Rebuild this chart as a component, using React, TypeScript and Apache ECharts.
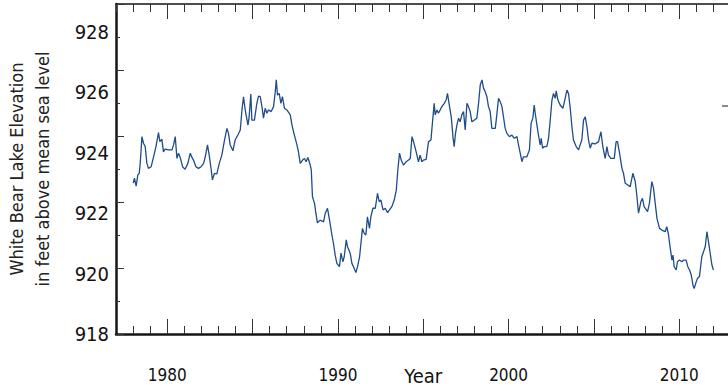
import React, { useEffect, useRef } from "react";
import * as echarts from "echarts";

const years: number[] = [
  1978.01, 1978.08, 1978.18, 1978.28, 1978.36, 1978.42, 1978.52, 1978.61, 1978.71, 1978.81, 1978.9,
  1979.06, 1979.2, 1979.34, 1979.49, 1979.57, 1979.69, 1979.78, 1979.88,
  1980.08, 1980.28, 1980.37, 1980.47, 1980.57, 1980.66, 1980.76, 1980.9,
  1981.05, 1981.21, 1981.35, 1981.45, 1981.54, 1981.68, 1981.83, 1981.99,
  1982.13, 1982.23, 1982.36, 1982.46, 1982.58, 1982.65, 1982.77, 1982.91,
  1983.05, 1983.2, 1983.36, 1983.5, 1983.59, 1983.69, 1983.85, 1983.98,
  1984.14, 1984.28, 1984.38, 1984.47, 1984.57, 1984.73, 1984.8, 1984.9, 1984.96,
  1985.11, 1985.25, 1985.35, 1985.45, 1985.55, 1985.64, 1985.74, 1985.84, 1985.93,
  1986.09, 1986.23, 1986.33, 1986.39, 1986.46, 1986.56, 1986.66, 1986.75, 1986.87,
  1987.01, 1987.21, 1987.31, 1987.4, 1987.5, 1987.6, 1987.69, 1987.79, 1987.93,
  1988.04, 1988.14, 1988.24, 1988.38, 1988.44, 1988.51, 1988.63, 1988.71, 1988.8, 1988.96,
  1989.16, 1989.26, 1989.39, 1989.51, 1989.65, 1989.74, 1989.84, 1989.94,
  1990.09, 1990.18, 1990.29, 1990.37, 1990.49, 1990.56, 1990.72, 1990.82, 1990.95,
  1991.05, 1991.15, 1991.27, 1991.35, 1991.44, 1991.54, 1991.64, 1991.73, 1991.85, 1991.93,
  1992.05, 1992.19, 1992.32, 1992.42, 1992.52, 1992.64, 1992.77, 1992.91,
  1993.02, 1993.16, 1993.3, 1993.42, 1993.51, 1993.61, 1993.71, 1993.84,
  1994.0, 1994.14, 1994.24, 1994.34, 1994.43, 1994.53, 1994.63, 1994.72, 1994.82, 1994.92,
  1995.01, 1995.17, 1995.31, 1995.45, 1995.57, 1995.64, 1995.7, 1995.8, 1995.89, 1995.99,
  1996.09, 1996.23, 1996.34, 1996.42, 1996.54, 1996.64, 1996.74, 1996.81, 1996.89, 1996.97,
  1997.07, 1997.16, 1997.26, 1997.36, 1997.46, 1997.56, 1997.65, 1997.75, 1997.85, 1997.98,
  1998.14, 1998.24, 1998.34, 1998.44, 1998.53, 1998.63, 1998.73, 1998.82, 1998.92,
  1999.02, 1999.22, 1999.31, 1999.41, 1999.51, 1999.61, 1999.7, 1999.8, 1999.9,
  2000.05, 2000.19, 2000.33, 2000.49, 2000.58, 2000.68, 2000.78, 2000.87,
  2001.07, 2001.22, 2001.32, 2001.42, 2001.5, 2001.56, 2001.66, 2001.75, 2001.85, 2001.91, 2001.99,
  2002.09, 2002.24, 2002.34, 2002.44, 2002.54, 2002.63, 2002.73, 2002.79, 2002.89,
  2003.02, 2003.18, 2003.27, 2003.42, 2003.51, 2003.61, 2003.71, 2003.8, 2003.96,
  2004.1, 2004.19, 2004.29, 2004.39, 2004.49, 2004.59, 2004.68, 2004.78, 2004.88,
  2005.07, 2005.27, 2005.41, 2005.52, 2005.66, 2005.76, 2005.85, 2005.99,
  2006.19, 2006.3, 2006.38, 2006.5, 2006.64, 2006.73, 2006.83, 2006.97,
  2007.12, 2007.28, 2007.42, 2007.52, 2007.61, 2007.67, 2007.75, 2007.84, 2007.94,
  2008.14, 2008.25, 2008.39, 2008.49, 2008.59, 2008.69, 2008.84, 2008.98,
  2009.17, 2009.27, 2009.37, 2009.47, 2009.57, 2009.63, 2009.7, 2009.82, 2009.89,
  2010.01, 2010.15, 2010.25, 2010.4, 2010.5, 2010.6, 2010.7, 2010.8, 2010.87, 2010.99,
  2011.07, 2011.18, 2011.32, 2011.42, 2011.52, 2011.62, 2011.71, 2011.81, 2011.91, 2012.0,
];

const elevations: number[] = [
  922.57, 922.72, 922.48, 922.82, 922.87, 923.17, 923.98, 923.78, 923.68, 923.17, 923.02,
  923.07, 923.37, 923.68, 924.1, 923.83, 923.9, 923.52, 923.6,
  923.58, 923.58, 923.73, 923.98, 923.32, 923.48, 923.35, 923.07,
  922.99, 923.17, 923.48, 923.35, 923.27, 923.07, 923.02, 923.07,
  923.17, 923.37, 923.73, 923.42, 922.97, 922.67, 922.87, 922.85,
  923.17, 923.42, 923.88, 924.23, 924.08, 923.73, 923.55, 923.88,
  924.03, 924.18, 924.79, 925.19, 924.79, 924.33, 924.58, 925.27, 924.48,
  924.48, 924.99, 925.21, 925.19, 924.89, 924.54, 924.84, 924.69, 924.79,
  924.74, 924.89, 925.34, 925.7, 925.24, 925.29, 924.99, 925.19, 924.84,
  924.79, 924.64, 924.33, 924.13, 923.93, 923.73, 923.52, 923.17, 923.27,
  923.32, 923.22, 923.35, 923.12, 922.97, 922.16, 921.96, 921.66, 921.37, 921.45,
  921.4, 921.66, 921.81, 921.45, 921.0, 920.75, 920.39, 920.14,
  920.04, 920.45, 920.19, 920.34, 920.85, 920.65, 920.45, 920.14, 919.99,
  919.86, 920.04, 920.34, 920.75, 921.2, 921.05, 921.0, 921.55, 921.2, 921.55,
  921.81, 921.81, 922.26, 922.01, 922.06, 921.76, 921.81, 921.68,
  921.76, 921.86, 922.06, 922.36, 922.97, 923.48, 923.27, 923.12,
  923.22, 923.27, 923.32, 923.98, 923.83, 923.63, 923.42, 923.22, 923.42, 923.22,
  923.27, 923.29, 923.83, 923.88, 924.58, 924.99, 924.64, 924.79, 924.69, 924.79,
  924.89, 924.99, 925.09, 925.29, 924.89, 924.58, 923.98, 923.68, 924.08, 924.33,
  924.54, 924.43, 924.64, 924.74, 924.18, 924.99, 924.89, 924.74, 924.43, 924.48,
  924.54, 924.99, 925.55, 925.7, 925.45, 925.34, 925.19, 924.89, 924.74,
  924.23, 924.23, 924.64, 925.14, 925.04, 924.89, 924.58, 924.23, 924.08,
  923.98, 924.03, 923.93, 923.98, 923.73, 923.48, 923.22, 923.37,
  923.37, 923.58, 924.39, 924.54, 924.94, 924.69, 924.33, 924.03, 923.73, 923.93, 923.63,
  923.68, 923.68, 923.93, 924.48, 925.09, 925.29, 925.14, 925.37, 925.09,
  924.94, 924.84, 925.04, 925.39, 925.29, 924.84, 924.28, 923.88, 923.68,
  923.58, 923.73, 923.88, 924.48, 924.58, 924.28, 923.88, 923.63, 923.78,
  923.76, 923.83, 924.13, 923.68, 923.32, 923.68, 923.42, 923.32,
  923.32, 923.83, 923.83, 923.48, 923.02, 922.87, 922.57, 922.52,
  922.46, 922.87, 922.62, 922.16, 921.66, 921.81, 922.01, 922.11, 921.86,
  921.71, 921.96, 922.62, 922.42, 921.96, 921.51, 921.2, 921.15,
  921.1, 921.25, 921.0, 920.6, 920.24, 920.39, 920.04, 919.94, 920.19,
  920.24, 920.19, 920.24, 920.24, 920.04, 919.94, 919.79, 919.48, 919.38, 919.58,
  919.69, 919.74, 920.34, 920.49, 920.65, 921.1, 920.8, 920.45, 920.09, 919.94,
];

const yearLabelStep = 10;
const majorYearTicks: number[] = [1980, 1985, 1990, 1995, 2000, 2005, 2010];
const elevationLabels: number[] = [918, 920, 922, 924, 926, 928];

const FONT = "'Liberation Sans Narrow', 'DejaVu Sans Condensed', 'Arial Narrow', sans-serif";
const AXIS = "#151515";

export default function App() {
  const ref = useRef<HTMLDivElement>(null);

  useEffect(() => {
    if (!ref.current) return;
    const chart = echarts.init(ref.current, undefined, { renderer: "svg" });
    const data = years.map((y, i) => [y, elevations[i]]);
    const rect = { left: 116, top: 4, width: 614.5, height: 330, containLabel: false, outerBoundsMode: "none" };
    const xMin = 1977;
    const xMax = 2013;

    chart.setOption({
      animation: false,
      backgroundColor: "#ffffff",
      textStyle: { fontFamily: FONT },
      grid: [{ ...rect }, { ...rect }, { ...rect }],
      xAxis: [
        {
          gridIndex: 0, type: "value", position: "bottom", min: xMin, max: xMax, interval: 1,
          axisLine: { lineStyle: { color: AXIS, width: 2.5 } },
          axisTick: { inside: true, length: 8, lineStyle: { color: "#333", width: 1 } },
          axisLabel: {
            show: true, margin: 32, fontSize: 17, color: "#111", fontFamily: FONT,
            showMinLabel: false, showMaxLabel: false, hideOverlap: false,
            formatter: (v: number) => (Math.round(v) % yearLabelStep === 0 ? String(Math.round(v)) : ""),
          },
          splitLine: { show: false },
          name: "Year", nameLocation: "middle", nameGap: 32, nameMoveOverlap: false,
          nameTextStyle: { fontSize: 20, color: "#111", fontFamily: FONT },
        },
        {
          gridIndex: 0, type: "value", position: "top", min: xMin, max: xMax, interval: 1,
          axisLine: { lineStyle: { color: AXIS, width: 1.5 } },
          axisTick: { inside: true, length: 8, lineStyle: { color: "#333", width: 1 } },
          axisLabel: { show: false }, splitLine: { show: false },
        },
        {
          gridIndex: 1, type: "value", position: "bottom", min: xMin, max: xMax, interval: 1,
          axisLine: { show: false },
          axisTick: { inside: true, length: 15, customValues: majorYearTicks, lineStyle: { color: "#333", width: 1 } },
          axisLabel: { show: false }, splitLine: { show: false },
        },
        {
          gridIndex: 1, type: "value", position: "top", min: xMin, max: xMax, interval: 1,
          axisLine: { show: false },
          axisTick: { inside: true, length: 15, customValues: majorYearTicks, lineStyle: { color: "#333", width: 1 } },
          axisLabel: { show: false }, splitLine: { show: false },
        },
        { gridIndex: 2, type: "value", min: xMin, max: xMax, show: false },
      ],
      yAxis: [
        {
          gridIndex: 0, type: "value", min: 918, max: 928, interval: 2,
          axisLine: { lineStyle: { color: AXIS, width: 2.5 } },
          axisTick: { inside: true, length: 8, lineStyle: { color: "#333", width: 1 } },
          minorTick: { show: true, splitNumber: 2, length: 4, lineStyle: { color: "#333", width: 1 } },
          axisLabel: { show: false }, splitLine: { show: false },
        },
        { gridIndex: 1, type: "value", min: 918, max: 928, show: false },
        {
          gridIndex: 2, type: "value", min: 918, max: 928.93,
          axisLine: { show: false }, axisTick: { show: false }, splitLine: { show: false },
          axisLabel: {
            customValues: elevationLabels, margin: 7, fontSize: 20, color: "#111", fontFamily: FONT,
            formatter: (v: number) => String(v),
          },
          name: "White Bear Lake Elevation\nin feet above mean sea level",
          nameLocation: "middle", nameRotate: 90, nameGap: 61, nameMoveOverlap: false,
          nameTextStyle: { fontSize: 18, lineHeight: 26, color: "#222", fontFamily: FONT },
        },
      ],
      graphic: [
        { type: "line", shape: { x1: 722, y1: 106, x2: 728, y2: 106 }, style: { stroke: "#8a8a8a", lineWidth: 2 } },
      ],
      series: [
        {
          type: "line", xAxisIndex: 0, yAxisIndex: 0, data, showSymbol: false, symbol: "none",
          lineStyle: { color: "#1f4c8a", width: 1.3 }, clip: true,
        },
      ],
    });

    return () => chart.dispose();
  }, []);

  return (
    <div
      ref={ref}
      style={{ position: "fixed", left: 0, top: 0, width: 728, height: 392, background: "#fff" }}
    />
  );
}
